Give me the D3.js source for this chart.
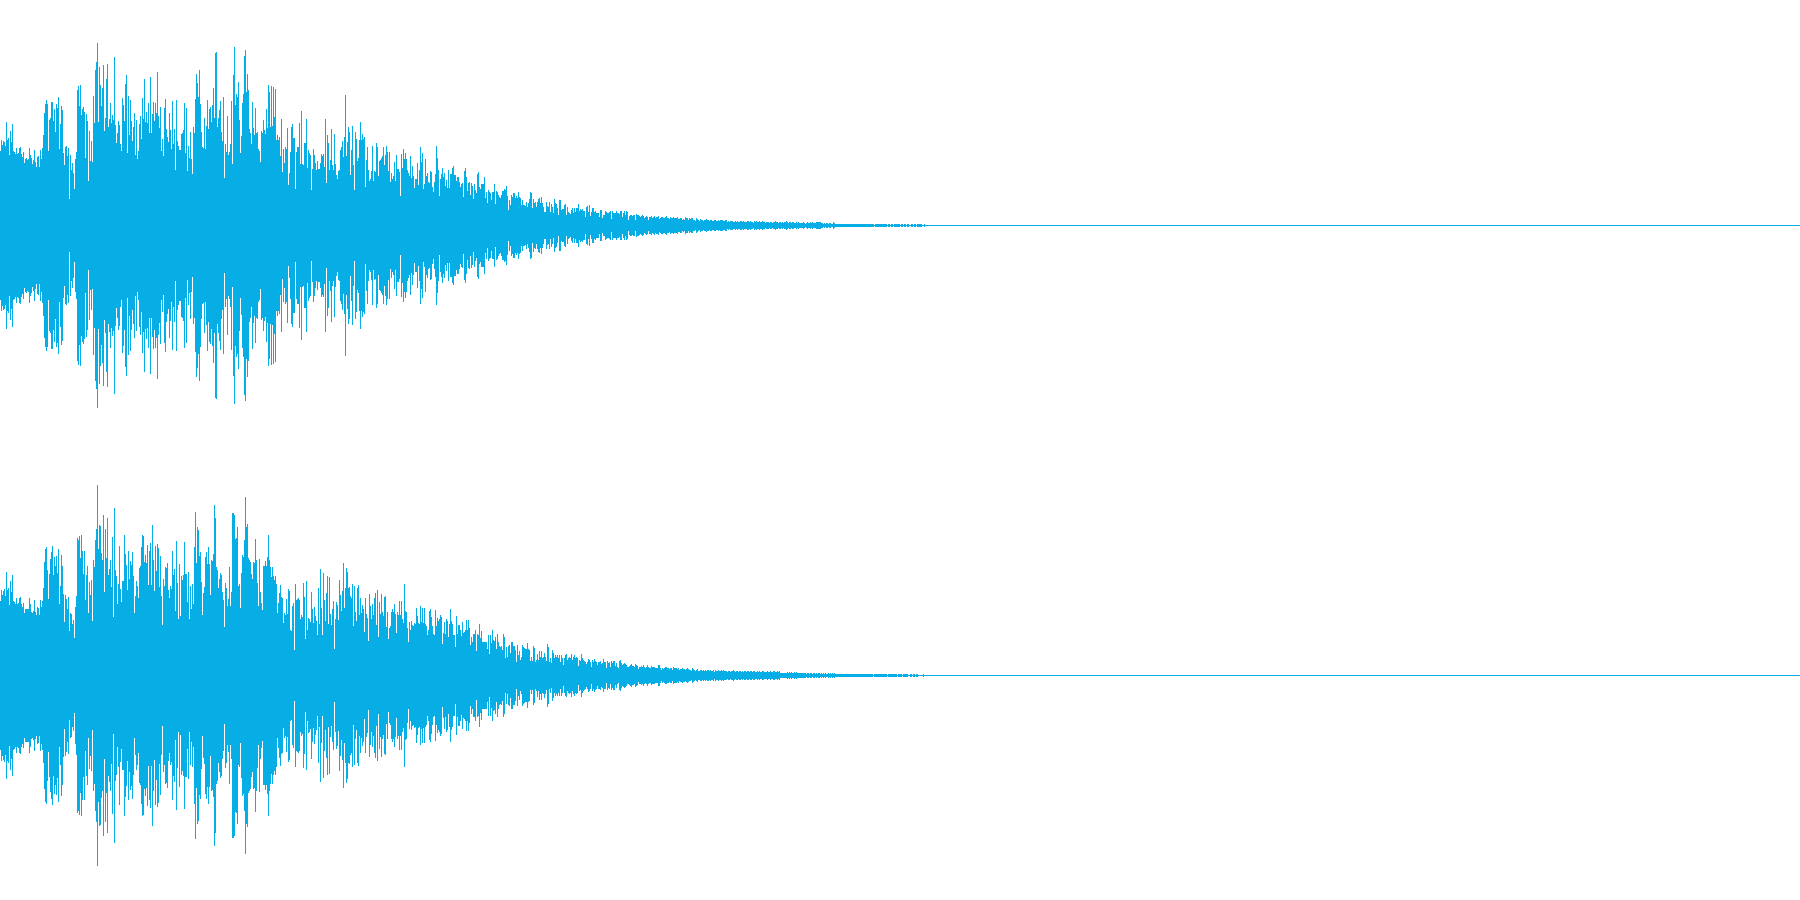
<!DOCTYPE html>
<html>
<head>
<meta charset="utf-8">
<style>html,body{margin:0;padding:0;background:#fff;overflow:hidden}svg{display:block}</style>
<script src="https://cdn.jsdelivr.net/npm/d3@7/dist/d3.min.js"></script>
</head>
<body>
<svg id="chart" width="1800" height="900" role="img" aria-label="Stereo audio waveform"></svg>
<script>
// Peak level per time column, on a scale where full scale is 675.
const channelOneLevels = [
223,255,240,253,250,237,308,255,260,210,282,250,303,223,220,213,231,213,215,230,234,213,205,220,186,197,200,195,197,231,210,200,183,195,225,190,173,205,207,175,225,197,230,270,335,363,375,363,223,315,321,369,369,313,349,280,363,351,385,229,303,357,345,217,181,235,237,207,232,79,210,165,187,155,109,199,219,405,417,357,420,331,349,353,339,201,333,312,133,282,193,252,190,387,305,465,489,545,310,475,420,357,411,480,283,320,438,483,295,319,365,305,330,315,503,301,247,277,313,300,243,223,381,361,313,423,451,215,387,270,375,313,253,293,335,211,315,199,223,303,327,259,380,319,438,309,340,305,367,277,
445,277,333,369,313,367,335,459,327,291,353,223,257,207,351,377,289,263,249,337,285,229,373,243,289,165,375,252,237,225,225,273,277,285,365,217,351,163,237,201,279,197,153,293,277,378,453,427,385,465,363,279,235,231,321,229,297,375,289,349,353,309,360,410,321,515,518,295,321,345,373,279,251,383,142,243,219,327,209,219,243,373,183,450,533,361,393,383,429,315,217,267,367,393,507,525,399,453,405,289,277,243,369,291,270,351,275,279,227,223,189,281,277,315,285,273,347,291,419,399,295,417,297,413,325,407,255,269,255,265,207,318,159,227,187,233,227,291,121,155,219,293,303,261,261,107,219,233,234,307,
183,342,183,180,245,245,318,171,225,217,210,105,168,228,210,185,165,192,168,168,186,213,207,213,175,318,125,270,247,165,195,288,180,165,273,183,150,138,162,165,225,233,252,205,264,390,207,249,294,279,150,225,297,180,105,279,258,193,201,255,309,255,273,257,264,115,195,234,165,133,138,162,237,132,161,159,246,234,147,192,195,201,207,234,180,210,237,219,163,218,129,155,138,147,189,132,210,168,167,159,
87,213,171,228,197,216,198,165,156,147,207,141,177,147,111,138,138,186,120,165,234,189,215,108,123,198,147,155,129,125,162,159,113,99,129,153,237,201,165,87,138,153,171,145,157,117,135,111,165,111,152,153,170,177,150,149,133,145,144,129,115,123,127,85,162,171,145,103,127,129,90,127,117,78,123,105,95,153,159,113,107,123,123,123,143,80,99,67,105,99,97,75,99,99,123,62,103,99,90,85,
80,91,101,103,107,105,117,87,45,75,60,91,85,95,95,80,87,82,98,85,81,60,75,60,60,57,70,55,65,78,98,96,50,77,65,70,55,69,79,80,65,83,67,55,40,40,69,57,55,70,40,63,55,36,77,65,63,50,30,75,75,45,48,48,60,62,29,55,40,37,33,45,50,37,51,39,50,52,63,42,48,44,47,42,41,24,55,58,40,60,27,40,52,52,39,42,36,35,37,25,
46,46,21,31,31,43,40,36,36,40,43,19,41,36,36,36,43,36,36,33,43,41,24,36,42,31,43,40,16,26,30,30,26,31,30,14,33,31,31,28,24,26,30,27,20,24,26,24,16,24,25,27,22,24,28,21,24,24,26,18,21,24,24,20,21,24,26,20,22,18,24,21,21,25,21,20,22,24,18,17,22,20,15,18,14,24,22,20,14,22,18,21,21,14,16,12,21,18,15,12,
18,15,15,12,15,15,18,15,15,12,15,15,12,12,15,15,12,12,15,12,15,15,15,12,12,15,15,9,12,9,12,12,12,9,9,12,9,12,9,9,12,12,9,12,9,9,9,12,12,9,12,9,9,6,12,9,12,9,9,12,9,9,12,9,9,6,9,9,9,6,9,9,6,9,9,12,9,9,6,9,9,6,9,6,9,9,12,9,6,9,9,6,9,9,6,6,9,6,9,6,
6,6,6,9,6,3,6,9,6,6,9,6,9,6,6,6,9,9,9,9,9,6,6,3,6,3,6,6,3,6,6,3,3,9,6,3,3,3,3,3,3,3,3,3,3,3,3,3,3,3,3,3,3,3,3,3,3,3,3,3,3,3,3,3,3,3,3,3,3,3,3,3,3,3,0,3,3,3,3,3,3,3,3,3,3,3,3,0,3,3,0,3,3,0,3,3,3,3,3,3,
0,3,3,0,3,3,0,3,3,0,0,3,3,0,3,3,0,3,3,3,3,3,0,0,3
];
const channelTwoLevels = [
223,255,240,253,257,237,308,255,260,210,282,250,300,223,220,213,231,213,215,230,234,213,205,215,187,197,197,197,197,231,213,190,187,193,225,190,180,203,200,180,225,203,223,260,338,378,383,315,229,303,347,369,387,300,353,327,357,307,378,213,267,360,327,243,159,240,229,198,233,133,185,183,153,165,111,203,237,411,405,417,351,420,372,303,373,225,300,327,187,279,240,285,163,345,325,405,437,570,379,450,447,367,345,480,249,438,351,471,301,318,345,265,414,174,501,315,297,213,273,387,259,219,282,282,420,363,331,255,373,288,342,330,369,297,186,237,282,267,231,321,327,383,420,417,339,360,336,390,270,373,
395,270,450,345,252,387,312,393,381,264,357,237,150,288,267,323,321,335,255,231,267,258,372,300,318,192,402,276,168,333,177,297,285,300,399,302,303,219,309,168,267,198,273,213,383,489,336,444,435,357,369,279,180,246,264,354,369,333,384,333,240,345,342,363,510,471,323,315,261,288,305,300,250,225,145,276,261,207,228,324,207,249,485,486,480,408,411,444,267,273,201,306,360,353,405,533,444,453,351,345,340,303,287,339,335,408,345,276,207,348,250,215,195,327,327,342,328,354,420,345,323,295,323,297,285,297,273,187,215,245,269,235,230,156,185,180,228,183,258,252,135,132,207,215,75,273,225,229,230,225,
167,180,173,277,235,109,282,135,170,167,160,250,198,157,205,178,163,120,262,153,318,200,120,307,225,163,247,297,153,295,183,150,198,221,79,167,219,210,165,285,240,193,252,335,201,261,321,309,262,264,237,231,273,147,267,189,163,261,269,180,231,186,210,198,129,231,183,171,102,243,207,167,213,180,231,246,150,255,115,219,183,243,189,177,234,237,144,189,109,141,148,189,198,189,213,183,127,189,180,222,
180,222,168,156,273,192,189,141,99,159,135,162,151,147,156,153,201,177,156,153,207,159,201,156,201,153,147,120,135,192,198,173,147,123,120,195,147,171,162,167,180,174,93,126,159,123,167,162,114,153,198,162,153,120,120,85,177,123,150,150,135,117,159,125,129,135,165,135,165,140,90,115,99,123,123,135,72,123,120,153,111,132,99,99,99,99,99,78,120,63,120,97,135,105,102,115,78,123,99,87,
85,88,75,123,115,51,85,55,87,89,67,99,100,87,87,75,40,90,60,71,45,55,90,85,82,79,79,95,78,75,42,55,43,87,82,40,45,63,45,71,55,72,50,53,65,55,43,93,83,40,51,37,75,65,50,60,55,60,52,60,40,60,51,30,52,60,63,45,50,55,50,63,45,53,59,50,53,50,27,45,42,63,51,45,43,39,33,40,47,45,39,23,45,40,47,42,40,30,38,40,
42,33,36,48,39,39,21,42,36,39,24,42,36,42,42,27,36,25,21,42,45,36,30,33,36,33,30,24,24,27,30,33,27,27,24,33,30,27,18,24,24,27,24,30,24,21,24,30,24,21,21,27,24,24,24,21,21,21,30,30,21,15,21,18,21,24,24,21,21,18,21,21,15,24,21,21,21,18,21,15,18,18,21,18,18,15,18,21,18,15,15,12,21,18,15,12,15,18,12,12,
15,15,12,15,12,15,12,15,15,12,15,12,12,15,9,15,12,12,15,12,12,15,12,15,12,12,12,9,12,12,9,12,12,15,12,9,12,12,9,12,12,9,12,9,12,12,9,12,12,9,12,12,9,12,12,9,9,12,9,12,9,9,12,12,9,9,9,12,9,9,12,9,9,12,12,9,9,12,9,12,6,6,6,6,6,6,6,9,6,9,6,9,6,6,9,6,9,6,6,6,
6,6,6,6,6,6,3,6,6,3,6,6,3,6,6,3,6,3,6,6,3,6,3,6,3,6,3,3,6,3,6,3,6,3,6,3,3,3,3,3,3,3,3,3,3,3,3,3,3,3,3,3,3,3,3,3,3,3,3,3,3,3,3,3,3,3,3,3,3,3,3,3,3,0,3,3,3,3,3,3,3,3,3,3,3,3,3,0,3,3,3,3,3,3,3,3,3,0,3,3,
3,3,0,3,3,3,3,3,0,0,3,3,0,3,3,0,3,3,0,0,0,0,0,3
];
const channels = [channelOneLevels, channelTwoLevels];
const channelNames = ["Channel 1", "Channel 2"];
const waveColor = "#07aee6";

const width = 1800, height = 900, laneHeight = height / channels.length;
const svg = d3.select("#chart");
const x = d3.scaleLinear().domain([0, width]).range([0, width]);

channels.forEach((levels, i) => {
  const y = d3.scaleLinear().domain([-675, 675]).range([laneHeight * (i + 1), laneHeight * i]);
  const g = svg.append("g").attr("aria-label", channelNames[i]).attr("shape-rendering", "crispEdges");
  // zero-level line over the full duration
  g.append("path")
    .attr("d", d3.line().x(d => x(d)).y(() => y(0) + 0.5)(x.domain()))
    .attr("stroke", waveColor).attr("stroke-width", 1).attr("fill", "none");
  // one peak bar per column
  g.selectAll("rect").data(levels).join("rect")
    .attr("x", (d, c) => x(c))
    .attr("width", x(1) - x(0))
    .attr("y", d => y(d))
    .attr("height", d => y(-d) - y(d) + 1)
    .attr("fill", waveColor);
});
</script>
</body>
</html>
